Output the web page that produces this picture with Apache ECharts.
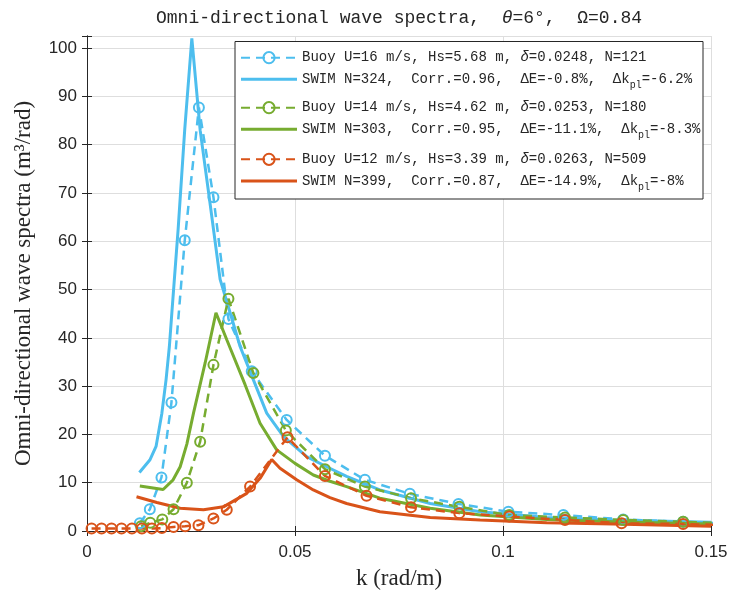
<!DOCTYPE html>
<html>
<head>
<meta charset="utf-8">
<title>Omni-directional wave spectra</title>
<script src="https://cdn.jsdelivr.net/npm/echarts@6/dist/echarts.min.js"></script>
<style>
  html, body { margin: 0; padding: 0; background: #fff; }
  #chart { width: 731px; height: 596px; }
</style>
</head>
<body>
<div id="chart"></div>
<script>
// buoy spectra (k in rad/m, spectrum in m^3/rad)
const kBuoy16 = [0.0127, 0.0151, 0.0179, 0.0203, 0.0235, 0.0269, 0.0304, 0.0340, 0.0396, 0.0480, 0.0572, 0.0668, 0.0776, 0.0893, 0.1013, 0.1145, 0.1289, 0.1433, 0.1587];
const eBuoy16 = [1.6, 4.5, 11.1, 26.6, 60.2, 87.7, 69.1, 43.9, 33.1, 23.0, 15.6, 10.6, 7.7, 5.6, 4.0, 3.3, 2.4, 1.9, 1.4];
const kBuoy14 = [0.0130, 0.0152, 0.0181, 0.0208, 0.0240, 0.0272, 0.0304, 0.0340, 0.0400, 0.0478, 0.0572, 0.0668, 0.0779, 0.0895, 0.1015, 0.1149, 0.1289, 0.1433, 0.1587];
const eBuoy14 = [1.0, 1.7, 2.4, 4.5, 10.0, 18.5, 34.4, 48.1, 32.7, 20.8, 12.8, 9.2, 6.8, 5.0, 3.3, 2.8, 2.3, 1.9, 1.5];
const kBuoy12 = [0.0011, 0.0035, 0.0059, 0.0083, 0.0108, 0.0132, 0.0156, 0.0180, 0.0208, 0.0236, 0.0268, 0.0304, 0.0336, 0.0392, 0.0482, 0.0572, 0.0672, 0.0779, 0.0895, 0.1015, 0.1149, 0.1285, 0.1433, 0.1587];
const eBuoy12 = [0.5, 0.5, 0.5, 0.5, 0.5, 0.5, 0.5, 0.6, 0.85, 1.0, 1.2, 2.6, 4.4, 9.2, 19.4, 11.4, 7.3, 4.9, 3.7, 3.0, 2.3, 1.6, 1.45, 1.1];

// SWIM spectra
const kSwim16 = [0.0126, 0.0151, 0.0166, 0.0180, 0.0190, 0.0198, 0.0204, 0.0210, 0.0219, 0.0235, 0.0252, 0.0272, 0.0294, 0.0320, 0.0344, 0.0368, 0.0400, 0.0432, 0.0472, 0.0528, 0.0576, 0.0624, 0.0704, 0.0825, 0.0945, 0.1105, 0.1265, 0.1500];
const eSwim16 = [12.1, 14.7, 17.5, 24.4, 31.3, 38.2, 45.2, 52.1, 62.4, 83.2, 102.0, 83.0, 69.0, 52.1, 45.2, 38.2, 31.3, 24.4, 19.6, 15.4, 13.3, 11.3, 8.5, 5.7, 4.0, 2.8, 2.3, 1.8];
const kSwim14 = [0.0127, 0.0183, 0.0207, 0.0224, 0.0240, 0.0256, 0.0284, 0.0310, 0.0336, 0.0380, 0.0416, 0.0456, 0.0500, 0.0544, 0.0584, 0.0624, 0.0704, 0.0825, 0.0945, 0.1105, 0.1265, 0.1500];
const eSwim14 = [9.3, 8.6, 10.6, 13.3, 18.0, 24.4, 34.8, 45.2, 39.6, 30.3, 22.3, 16.8, 14.0, 11.6, 10.3, 9.2, 6.8, 4.7, 3.3, 2.4, 1.9, 1.45];
const kSwim12 = [0.0119, 0.0168, 0.0224, 0.0280, 0.0328, 0.0384, 0.0416, 0.0444, 0.0464, 0.0504, 0.0544, 0.0584, 0.0624, 0.0704, 0.0825, 0.0945, 0.1105, 0.1265, 0.1500];
const eSwim12 = [7.1, 5.9, 4.7, 4.4, 5.0, 7.8, 10.9, 14.8, 13.0, 10.6, 8.5, 6.9, 5.7, 4.0, 2.8, 2.3, 1.7, 1.45, 1.0];

// legend texts (plain name / rich version)
const names = [
  'Buoy U=16 m/s, Hs=5.68 m, δ=0.0248, N=121',
  'SWIM N=324,  Corr.=0.96,  ΔE=-0.8%,  Δkpl=-6.2%',
  'Buoy U=14 m/s, Hs=4.62 m, δ=0.0253, N=180',
  'SWIM N=303,  Corr.=0.95,  ΔE=-11.1%,  Δkpl=-8.3%',
  'Buoy U=12 m/s, Hs=3.39 m, δ=0.0263, N=509',
  'SWIM N=399,  Corr.=0.87,  ΔE=-14.9%,  Δkpl=-8%'
];
const colors = ['#4DBEEE', '#77AC30', '#D95319'];

const ink = '#262626';
const mono = 'Liberation Mono';

function pairs(ks, vs) {
  return ks.map((k, i) => [k, vs[i]]);
}
function richName(name) {
  return name.replace('δ', '{it|δ}').replace('Δkpl', 'Δk{sub|pl}');
}

function buoySeries(name, ks, vs, color) {
  return {
    name: name,
    type: 'line',
    data: pairs(ks, vs),
    color: color,
    symbol: 'circle',
    symbolSize: 10,
    showAllSymbol: true,
    lineStyle: { color: color, width: 2.5, type: [9, 6] },
    itemStyle: { color: 'rgba(0,0,0,0)', borderColor: color, borderWidth: 2 },
    emphasis: { disabled: true }
  };
}
function swimSeries(name, ks, vs, color) {
  return {
    name: name,
    type: 'line',
    data: pairs(ks, vs),
    color: color,
    symbol: 'none',
    lineStyle: { color: color, width: 3 },
    emphasis: { disabled: true }
  };
}

// solid line icon for the SWIM entries (corner dots keep the box 56x14)
const swimIcon = 'path://M0,0h0.01v0.01h-0.01zM0,5.5h56v3h-56zM55.99,13.99h0.01v0.01h-0.01z';

function makeLegend(i, top) {
  return {
    orient: 'vertical',
    left: 240,
    top: top,
    padding: 0,
    itemGap: 5.6,
    itemWidth: 56,
    itemHeight: 14,
    selectedMode: false,
    formatter: richName,
    textStyle: {
      fontFamily: mono,
      fontSize: 14,
      lineHeight: 16,
      color: ink,
      rich: {
        it: { fontFamily: mono, fontSize: 14, fontStyle: 'italic', color: ink },
        sub: { fontFamily: mono, fontSize: 10, color: ink, padding: [12, 0, 0, 0] }
      }
    },
    data: [
      { name: names[2 * i], itemStyle: { color: 'rgba(0,0,0,0)', borderColor: colors[i], borderWidth: 2 } },
      { name: names[2 * i + 1], icon: swimIcon, itemStyle: { color: colors[i], borderWidth: 0 } }
    ]
  };
}

const chart = echarts.init(document.getElementById('chart'), null, { renderer: 'canvas' });

const boxAxis = {
  axisLine: { show: true, lineStyle: { color: ink, width: 1 } },
  axisTick: { show: true, inside: true, length: 5, lineStyle: { color: ink } },
  axisLabel: { show: false },
  splitLine: { show: false }
};

chart.setOption({
  animation: false,
  backgroundColor: '#fff',
  title: {
    text: 'Omni-directional wave spectra,  {it|θ}=6°,  Ω=0.84',
    left: 156,
    top: 9,
    padding: 0,
    textStyle: {
      fontFamily: mono,
      fontSize: 18,
      fontWeight: 'normal',
      color: ink,
      rich: {
        it: { fontFamily: mono, fontSize: 18, fontStyle: 'italic', color: ink }
      }
    }
  },
  grid: {
    left: 87, right: 20, top: 36, bottom: 65,
    containLabel: false,
    outerBoundsMode: 'none'
  },
  legend: [makeLegend(0, 49.7), makeLegend(1, 99.7), makeLegend(2, 151.3)],
  graphic: [{
    type: 'rect',
    z: 3,
    shape: { x: 235, y: 41.5, width: 468, height: 157.5 },
    style: { fill: '#fff', stroke: ink, lineWidth: 1 }
  }],
  xAxis: [{
    type: 'value',
    min: 0,
    max: 0.15,
    interval: 0.05,
    name: 'k (rad/m)',
    nameLocation: 'middle',
    nameGap: 36,
    nameTextStyle: { fontFamily: 'Liberation Serif', fontSize: 23, color: ink },
    axisLine: { show: true, onZero: false, lineStyle: { color: ink, width: 1 } },
    axisTick: { show: true, inside: true, length: 5, lineStyle: { color: ink } },
    axisLabel: { fontFamily: 'Liberation Sans', fontSize: 17, color: ink, margin: 13 },
    splitLine: { show: true, lineStyle: { color: '#dedede', width: 1 } }
  }, Object.assign({
    type: 'value', position: 'top', min: 0, max: 0.15, interval: 0.05
  }, boxAxis)],
  yAxis: [{
    type: 'value',
    min: 0,
    max: 102.5,
    interval: 10,
    name: 'Omni-directional wave spectra (m³/rad)',
    nameLocation: 'middle',
    nameGap: 52,
    nameTextStyle: { fontFamily: 'Liberation Serif', fontSize: 23, color: ink },
    axisLine: { show: true, lineStyle: { color: ink, width: 1 } },
    axisTick: { show: true, inside: true, length: 5, lineStyle: { color: ink } },
    axisLabel: {
      fontFamily: 'Liberation Sans', fontSize: 17, color: ink, margin: 10,
      formatter: v => (Math.abs(v % 10) < 1e-9 ? String(v) : '')
    },
    splitLine: { show: true, lineStyle: { color: '#dedede', width: 1 } }
  }, Object.assign({
    type: 'value', position: 'right', min: 0, max: 102.5, interval: 10
  }, boxAxis)],
  series: [
    buoySeries(names[0], kBuoy16, eBuoy16, colors[0]),
    swimSeries(names[1], kSwim16, eSwim16, colors[0]),
    buoySeries(names[2], kBuoy14, eBuoy14, colors[1]),
    swimSeries(names[3], kSwim14, eSwim14, colors[1]),
    buoySeries(names[4], kBuoy12, eBuoy12, colors[2]),
    swimSeries(names[5], kSwim12, eSwim12, colors[2])
  ]
});
</script>
</body>
</html>
